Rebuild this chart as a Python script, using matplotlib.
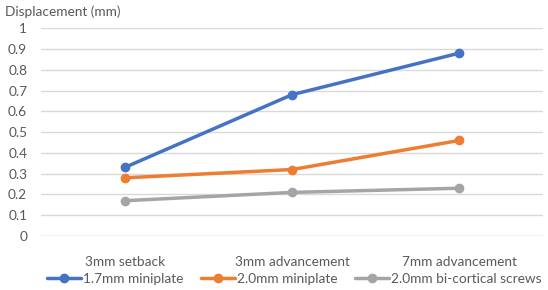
import matplotlib
matplotlib.use("Agg")
import matplotlib.pyplot as plt

categories = ["3mm setback", "3mm advancement", "7mm advancement"]
series_names = ["1.7mm miniplate", "2.0mm miniplate", "2.0mm bi-cortical screws"]
s1 = [0.33, 0.68, 0.88]
s2 = [0.28, 0.32, 0.46]
s3 = [0.17, 0.21, 0.23]
yticks = [0, 0.1, 0.2, 0.3, 0.4, 0.5, 0.6, 0.7, 0.8, 0.9, 1]
colors = ["#4472C4", "#ED7D31", "#A5A5A5"]

plt.rcParams['font.family'] = ['Lato', 'DejaVu Sans']
txt = "#595959"

fig = plt.figure(figsize=(5.48, 2.9), dpi=100)
ax = fig.add_axes([0.075, 0.186, 0.916, 0.717])
x = list(range(len(categories)))
for vals, name, c in zip([s1, s2, s3], series_names, colors):
    ax.plot(x, vals, color=c, lw=2.5, marker='o', ms=6, label=name, solid_capstyle='round', zorder=3)

ax.set_xlim(-0.5, 2.5)
ax.set_ylim(0, 1)
ax.set_yticks(yticks)
ax.set_yticklabels([f"{v:g}" for v in yticks], color=txt, fontsize=9.8)
ax.set_xticks(x)
ax.set_xticklabels(categories, color=txt, fontsize=9.8)
ax.tick_params(axis='both', length=0)
ax.tick_params(axis='x', pad=14)
ax.tick_params(axis='y', pad=10)
ax.grid(axis='y', color='#D9D9D9', lw=1)
ax.set_axisbelow(True)
for s in ax.spines.values():
    s.set_visible(False)
ax.axhline(0, color='#D9D9D9', lw=1, zorder=1)

fig.text(0.009, 0.958, "Displacement (mm)", color=txt, fontsize=9.8, va='center', ha='left')
fig.legend(loc='center', bbox_to_anchor=(0.537, 0.038), ncol=3, frameon=False,
           fontsize=9.8, labelcolor=txt, handlelength=2.5, columnspacing=1.3, handletextpad=0.15,
           borderaxespad=0, borderpad=0)
fig.savefig("out.png", dpi=100, facecolor='white')
